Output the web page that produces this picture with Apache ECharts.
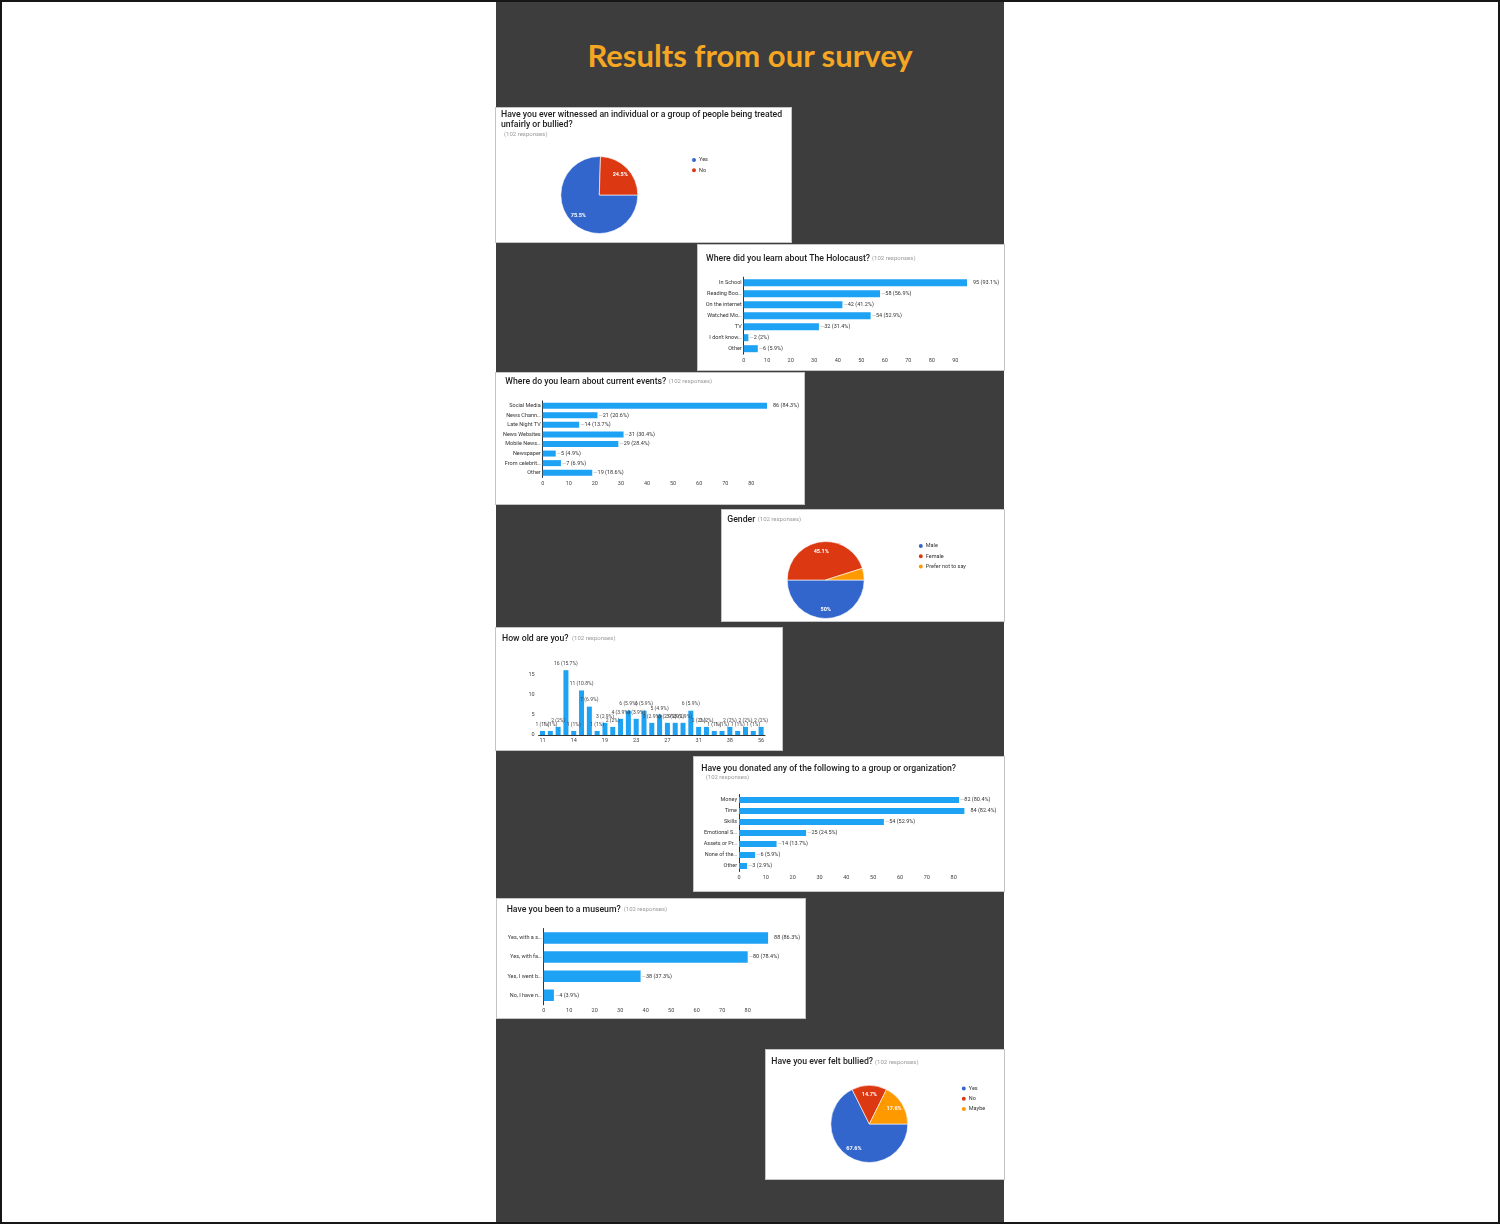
<!DOCTYPE html>
<html>
<head>
<meta charset="utf-8">
<title>Results from our survey</title>
<script src="https://cdn.jsdelivr.net/npm/echarts@6.0.0/dist/echarts.min.js"></script>
<style>
  html, body { margin: 0; padding: 0; background: #fff; }
  #page { position: relative; width: 1500px; height: 1224px; overflow: hidden; background: #fff; }
  #frame { position: absolute; left: 0; top: 0; width: 1500px; height: 1224px; box-sizing: border-box; border: 2px solid #161616; pointer-events: none; z-index: 5; }
  #column { position: absolute; left: 496px; top: 0; width: 508px; height: 1224px; background: #3d3d3d; }
  #heading { position: absolute; left: 496px; top: 36px; width: 508px; text-align: center; font: bold 31px Lato, sans-serif; color: #f5a623; }
  .card { position: absolute; background: #fff; box-shadow: 0 0 0 1px #c4c4c4; }
</style>
</head>
<body>
<div id="page">
  <div id="column"></div>
  <div id="heading">Results from our survey</div>
  <div id="frame"></div>
</div>
<script>
var responses = 102;

// Have you ever witnessed ... bullied?
var witnessNames = ['Yes', 'No'];
var witnessCounts = [77, 25];

// Where did you learn about The Holocaust?
var holoCats = ['In School', 'Reading Boo\u2026', 'On the internet', 'Watched Mo\u2026', 'TV', 'I don\'t know\u2026', 'Other'];
var holoCounts = [95, 58, 42, 54, 32, 2, 6];

// Where do you learn about current events?
var newsCats = ['Social Media', 'News Chann\u2026', 'Late Night TV', 'News Websites', 'Mobile News\u2026', 'Newspaper', 'From celebrit\u2026', 'Other'];
var newsCounts = [86, 21, 14, 31, 29, 5, 7, 19];

// Gender
var genderNames = ['Male', 'Female', 'Prefer not to say'];
var genderCounts = [51, 46, 5];

// How old are you?
var ageCats = ['11', '12', '12 ', '13', '14', '15', '16', '17', '19', '20', '21', '22', '23', '24', '25',
  '26', '27', '28', '29', '30', '31', '32', '33', '35', '38', '40', '45', '50', '56'];
var ageCounts = [1, 1, 2, 16, 1, 11, 7, 1, 3, 2, 4, 6, 4, 6, 3, 5, 3, 3, 3, 6, 2, 2, 1, 1, 2, 1, 2, 1, 2];
var ageTicks = [0, 5, 10, 15];

// Have you donated any of the following ...?
var donateCats = ['Money', 'Time', 'Skills', 'Emotional S\u2026', 'Assets or Pr\u2026', 'None of the\u2026', 'Other'];
var donateCounts = [82, 84, 54, 25, 14, 6, 3];

// Have you been to a museum?
var museumCats = ['Yes, with a s\u2026', 'Yes, with fa\u2026', 'Yes, I went b\u2026', 'No, I have n\u2026'];
var museumCounts = [88, 80, 38, 4];

// Have you ever felt bullied?
var bulliedNames = ['Yes', 'No', 'Maybe'];
var bulliedCounts = [69, 15, 18];

var font = 'Roboto, "Liberation Sans", Arial, sans-serif';
var barBlue = '#1ea2f4';
var pieColors = ['#3366cc', '#dc3912', '#ff9900'];

function pct(v) {
	return Math.round(v / responses * 1000) / 10 + '%';
}

function makeCard(id, left, top, w, h) {
	var el = document.createElement('div');
	el.className = 'card';
	el.id = id;
	el.style.left = left + 'px';
	el.style.top = top + 'px';
	el.style.width = w + 'px';
	el.style.height = h + 'px';
	document.getElementById('page').appendChild(el);
	return echarts.init(el);
}

function titles(text, tx, ty, sx, sy) {
	return [{
		text: text, left: tx, top: ty, padding: 0,
		textStyle: { fontFamily: font, fontSize: 8.7, fontWeight: 500, color: '#1c1c1c', lineHeight: 10.5 }
	}, {
		text: '(' + responses + ' responses)', left: sx, top: sy, padding: 0,
		textStyle: { fontFamily: font, fontSize: 6, fontWeight: 'normal', color: '#9a9a9a', lineHeight: 6 }
	}];
}

function hbarOption(cats, counts, grid, barWidth, t) {
	var max = Math.max.apply(null, counts);
	grid.outerBoundsMode = 'none';
	return {
		animation: false,
		title: t,
		grid: grid,
		xAxis: {
			type: 'value', min: 0, max: max, interval: 10,
			axisLine: { show: false }, axisTick: { show: false }, splitLine: { show: false },
			axisLabel: { fontFamily: font, fontSize: 5.5, color: '#444', margin: 3, showMaxLabel: false }
		},
		yAxis: {
			type: 'category', data: cats, inverse: true,
			axisLine: { show: true, lineStyle: { color: '#333', width: 1 } },
			axisTick: { show: false },
			axisLabel: { fontFamily: font, fontSize: 5.5, color: '#333', margin: 2 }
		},
		series: [{
			type: 'bar', data: counts, barWidth: barWidth,
			itemStyle: { color: barBlue },
			label: {
				show: true, position: 'right', distance: 1,
				formatter: function(p) {
					var txt = p.value + ' (' + pct(p.value) + ')';
					return p.value === max ? '{m|' + txt + '}' : '{d|\u2014}{v|' + txt + '}';
				},
				rich: {
					d: { fontFamily: font, fontSize: 5.5, color: '#a0a0a0' },
					v: { fontFamily: font, fontSize: 5.5, color: '#333' },
					m: { fontFamily: font, fontSize: 5.5, color: '#333', padding: [0, 0, 0, 5] }
				}
			}
		}]
	};
}

function pieOption(names, counts, t, center, r, legendPos) {
	var data = names.map(function(n, i) { return { name: n, value: counts[i] }; });
	return {
		animation: false,
		title: t,
		color: pieColors,
		legend: {
			orient: 'vertical', left: legendPos[0], top: legendPos[1], padding: 0,
			itemWidth: 6, itemHeight: 6, itemGap: 2.3, icon: 'circle', selectedMode: false,
			textStyle: { fontFamily: font, fontSize: 5.5, color: '#333', lineHeight: 6, padding: [0, 0, 0, -3] },
			data: names
		},
		series: [{
			type: 'pie', center: center, radius: [0, r], startAngle: 0, clockwise: true, silent: true,
			label: { show: false }, labelLine: { show: false },
			itemStyle: { borderColor: '#fff', borderWidth: 0.6 },
			data: data
		}, {
			// transparent ring, only carries the percent labels at ~2/3 radius
			type: 'pie', center: center, radius: [r * 0.36, r], startAngle: 0, clockwise: true, silent: true,
			minShowLabelAngle: 20,
			itemStyle: { color: 'rgba(0,0,0,0)' },
			labelLine: { show: false },
			label: {
				show: true, position: 'inside', color: '#fff', fontFamily: font, fontSize: 5.5, fontWeight: 'bold',
				formatter: function(p) { return pct(p.value); }
			},
			data: data
		}]
	};
}

var c1 = makeCard('witness', 496, 108, 295, 134);
c1.setOption(pieOption(witnessNames, witnessCounts,
	titles('Have you ever witnessed an individual or a group of people being treated\nunfairly or bullied?', 5, 1.5, 8, 23.5),
	[103.3, 87], 38.5, [194, 48]));

var c2 = makeCard('holocaust', 698, 245, 306, 125);
c2.setOption(hbarOption(holoCats, holoCounts,
	{ left: 45.7, right: 37, top: 32.2, bottom: 15.8 }, 7,
	titles('Where did you learn about The Holocaust?', 8, 8.5, 174, 10.5)));

var c3 = makeCard('news', 496, 373, 308, 131);
c3.setOption(hbarOption(newsCats, newsCounts,
	{ left: 46.7, right: 37, top: 27.9, bottom: 26.5 }, 6,
	titles('Where do you learn about current events?', 9.3, 3.5, 172.7, 5)));

var c4 = makeCard('gender', 722, 510, 282, 111);
c4.setOption(pieOption(genderNames, genderCounts,
	titles('Gender', 5.3, 4.2, 35.7, 6.4),
	[103.7, 70], 38.5, [194.8, 32]));

var c5 = makeCard('age', 496, 628, 286, 122);
c5.setOption({
	animation: false,
	title: titles('How old are you?', 6, 5.5, 76, 7.7),
	grid: { left: 42.6, right: 17, top: 42.2, bottom: 15, outerBoundsMode: 'none' },
	xAxis: {
		type: 'category', data: ageCats,
		axisTick: { show: false },
		axisLine: { show: true, lineStyle: { color: '#333', width: 1 } },
		axisLabel: { interval: 3, fontFamily: font, fontSize: 5.5, color: '#444', margin: 3 }
	},
	yAxis: {
		type: 'value', min: ageTicks[0], max: 16, interval: ageTicks[1] - ageTicks[0],
		axisLine: { show: false }, axisTick: { show: false }, splitLine: { show: false },
		axisLabel: { fontFamily: font, fontSize: 5.5, color: '#444', margin: 4, showMaxLabel: false }
	},
	series: [{
		type: 'bar', data: ageCounts, barWidth: 5,
		itemStyle: { color: barBlue },
		label: {
			show: true, position: 'top', distance: 4, fontFamily: font, fontSize: 5, color: '#444',
			formatter: function(p) { return p.value + ' (' + pct(p.value) + ')'; }
		}
	}]
});

var c6 = makeCard('donate', 694, 757, 310, 134);
c6.setOption(hbarOption(donateCats, donateCounts,
	{ left: 45, right: 39.6, top: 37.5, bottom: 19.5 }, 6,
	titles('Have you donated any of the following to a group or organization?', 7.3, 6.2, 11.7, 17.7)));

var c7 = makeCard('museum', 497, 899, 308, 119);
c7.setOption(hbarOption(museumCats, museumCounts,
	{ left: 46.7, right: 36.9, top: 29.5, bottom: 13.2 }, 11.5,
	titles('Have you been to a museum?', 9.7, 5.5, 126.7, 7.7)));

var c8 = makeCard('bullied', 766, 1050, 238, 129);
c8.setOption(pieOption(bulliedNames, bulliedCounts,
	titles('Have you ever felt bullied?', 5.3, 6.8, 109, 9),
	[103.3, 74], 38.5, [193.8, 34.5]));
</script>
</body>
</html>
